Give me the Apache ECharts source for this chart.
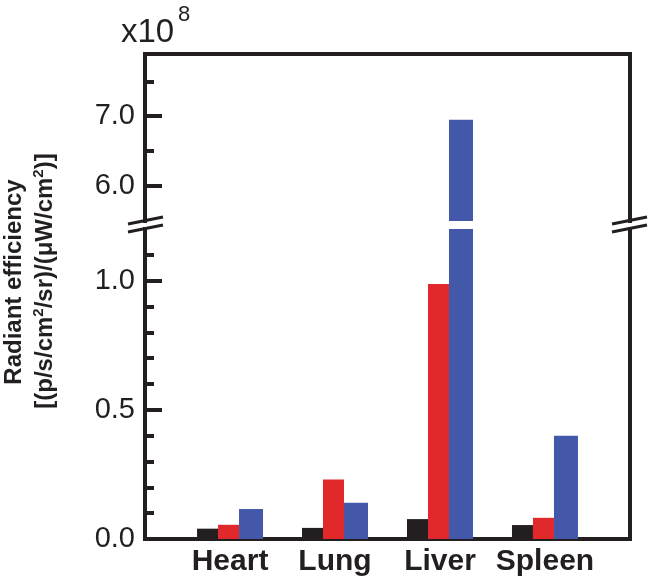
<!DOCTYPE html>
<html>
<head>
<meta charset="utf-8">
<script src="https://cdn.jsdelivr.net/npm/echarts@6/dist/echarts.min.js"></script>
<style>html,body{margin:0;padding:0;background:#fff}#c{width:650px;height:580px}</style>
</head>
<body>
<div id="c"></div>
<script>
// Data (units: x10^8)
var categories = ['Heart', 'Lung', 'Liver', 'Spleen'];
var blackValues = [0.040, 0.043, 0.077, 0.054];
var redValues = [0.055, 0.230, 0.987, 0.082];
var blueValues = [0.116, 0.140, 6.95, 0.400];
// Tick labels / tick positions
var lowerMajorTicks = [0, 0.5, 1.0];
var lowerMinorTicks = [0.1, 0.2, 0.3, 0.4, 0.6, 0.7, 0.8, 0.9, 1.1];
var upperMajorTicks = [6.0, 7.0];
var upperMinorTicks = [6.5, 7.5];
var categoryPositions = [0, 1, 2, 3];

var INK = '#231f20';
var FONT = 'Liberation Sans, Arial, sans-serif';
var colors = ['#231f20', '#e1292b', '#4358a8'];
var widths = [21, 21, 24];
var seriesValues = [blackValues, redValues, blueValues];

var chart = echarts.init(document.getElementById('c'), null, {renderer: 'canvas'});

function lineAxis(w) { return {show: true, onZero: false, lineStyle: {color: INK, width: w || 4, cap: 'square'}}; }
var noLine = {show: false, onZero: false};

var xMin = -0.81, xMax = 3.81;

var series = [];
[0, 1].forEach(function (g) {
  seriesValues.forEach(function (arr, k) {
    series.push({
      type: 'bar',
      xAxisIndex: g,
      yAxisIndex: g === 0 ? 0 : 3,
      barWidth: widths[k],
      barGap: '0%',
      clip: true,
      itemStyle: {color: colors[k]},
      data: categories.map(function (c, i) { return [categoryPositions[i], arr[i]]; })
    });
  });
});

var option = {
  animation: false,
  grid: [
    {left: 145, right: 20, top: 229, bottom: 41},
    {left: 145, right: 20, top: 54, height: 167}
  ],
  xAxis: [
    {
      gridIndex: 0, type: 'value', position: 'bottom', min: xMin, max: xMax,
      axisLine: lineAxis(4), axisTick: {show: false}, splitLine: {show: false},
      axisLabel: {
        customValues: categoryPositions, margin: 8,
        fontSize: 30, fontWeight: 'bold', color: INK, fontFamily: FONT,
        formatter: function (v) { return categories[Math.round(v)]; }
      }
    },
    {
      gridIndex: 1, type: 'value', position: 'top', min: xMin, max: xMax,
      axisLine: lineAxis(4), axisTick: {show: false}, splitLine: {show: false},
      axisLabel: {show: false}
    }
  ],
  yAxis: [
    {
      gridIndex: 0, type: 'value', position: 'left', min: 0, max: 1.2,
      axisLine: lineAxis(4), splitLine: {show: false},
      axisTick: {show: true, inside: true, length: 17, customValues: lowerMajorTicks, lineStyle: {color: INK, width: 4}},
      axisLabel: {customValues: lowerMajorTicks, margin: 10, fontSize: 29, color: INK, fontFamily: FONT,
        formatter: function (v) { return v.toFixed(1); }}
    },
    {
      gridIndex: 0, type: 'value', position: 'left', min: 0, max: 1.2,
      axisLine: noLine, splitLine: {show: false}, axisLabel: {show: false},
      axisTick: {show: true, inside: true, length: 9, customValues: lowerMinorTicks, lineStyle: {color: INK, width: 4}}
    },
    {
      gridIndex: 0, type: 'value', position: 'right', min: 0, max: 1.2,
      axisLine: lineAxis(4), splitLine: {show: false}, axisLabel: {show: false}, axisTick: {show: false}
    },
    {
      gridIndex: 1, type: 'value', position: 'left', min: 5.5, max: 7.89,
      axisLine: lineAxis(4), splitLine: {show: false},
      axisTick: {show: true, inside: true, length: 17, customValues: upperMajorTicks, lineStyle: {color: INK, width: 4}},
      axisLabel: {customValues: upperMajorTicks, margin: 10, fontSize: 29, color: INK, fontFamily: FONT,
        formatter: function (v) { return v.toFixed(1); }}
    },
    {
      gridIndex: 1, type: 'value', position: 'left', min: 5.5, max: 7.89,
      axisLine: noLine, splitLine: {show: false}, axisLabel: {show: false},
      axisTick: {show: true, inside: true, length: 9, customValues: upperMinorTicks, lineStyle: {color: INK, width: 4}}
    },
    {
      gridIndex: 1, type: 'value', position: 'right', min: 5.5, max: 7.89,
      axisLine: lineAxis(4), splitLine: {show: false}, axisLabel: {show: false}, axisTick: {show: false}
    }
  ],
  series: series,
  graphic: [
    // axis break marks
    {type: 'line', shape: {x1: 128, y1: 224, x2: 163, y2: 217}, style: {stroke: INK, lineWidth: 3}},
    {type: 'line', shape: {x1: 128, y1: 232, x2: 163, y2: 225}, style: {stroke: INK, lineWidth: 3}},
    {type: 'line', shape: {x1: 612, y1: 224, x2: 647, y2: 217}, style: {stroke: INK, lineWidth: 3}},
    {type: 'line', shape: {x1: 612, y1: 232, x2: 647, y2: 225}, style: {stroke: INK, lineWidth: 3}},
    // multiplier
    {type: 'text', x: 121, y: 33, style: {text: 'x10', fontSize: 33, fontFamily: FONT, fill: INK, align: 'left', verticalAlign: 'middle'}},
    {type: 'text', x: 178, y: 15, style: {text: '8', fontSize: 22, fontFamily: FONT, fill: INK, align: 'left', verticalAlign: 'middle'}},
    // y-axis title
    {type: 'text', x: 14, y: 282, rotation: Math.PI / 2,
      style: {text: 'Radiant efficiency', fontSize: 24, fontWeight: 'bold', fontFamily: FONT, fill: INK, align: 'center', verticalAlign: 'middle'}},
    {type: 'text', x: 45, y: 281, rotation: Math.PI / 2,
      style: {
        text: '{b|[(p/s/cm}{s|2}{b|/sr)/(μW/cm}{s|2}{b|)]}',
        align: 'center', verticalAlign: 'middle',
        rich: {
          b: {fontSize: 24, fontWeight: 'bold', fontFamily: FONT, fill: INK, color: INK, lineHeight: 28},
          s: {fontSize: 15, fontWeight: 'bold', fontFamily: FONT, fill: INK, color: INK, lineHeight: 15, verticalAlign: 'top'}
        }
      }}
  ]
};
chart.setOption(option);
</script>
</body>
</html>
